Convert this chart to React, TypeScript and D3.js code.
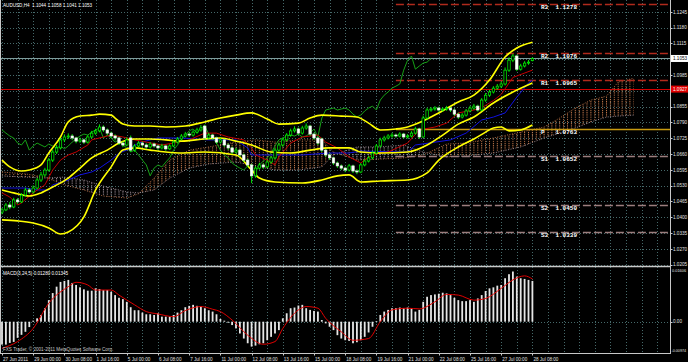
import React, { useEffect } from 'react';
import * as d3 from 'd3';

const titleText = 'AUDUSD,H4  1.1044 1.1058 1.1041 1.1053';
const macdText = 'MACD(3,24,5) 0.01280 0.01345';
const copyText = 'FXS Trader, © 2001-2011 MetaQuotes Software Corp.';

const dateLabels = ['27 Jun 2011','29 Jun 00:00','30 Jun 08:00','1 Jul 16:00','5 Jul 00:00','6 Jul 08:00','7 Jul 16:00','11 Jul 00:00','12 Jul 08:00','13 Jul 16:00','15 Jul 00:00','18 Jul 08:00','19 Jul 16:00','21 Jul 00:00','22 Jul 08:00','25 Jul 16:00','27 Jul 00:00','28 Jul 08:00'];
const dateBars = [0,8,16,24,32,40,48,56,64,72,80,88,96,104,112,120,128,136];

const gridLevels = [1.1245,1.1180,1.1115,1.1050,1.0985,1.0920,1.0855,1.0790,1.0725,1.0660,1.0595,1.0530,1.0465,1.0400,1.0335,1.0270,1.0205];
const axisLabels = [1.1245,1.1180,1.1115,1.0985,1.0855,1.0790,1.0725,1.0660,1.0595,1.0530,1.0465,1.0400,1.0335,1.0270,1.0205];

const bidPrice = 1.1053;
const redLinePrice = 1.0927;

const pivotNames = ['R3','R2','R1','P','S1','S2','S3'];
const pivotValues = [1.1278,1.1076,1.0965,1.0763,1.0652,1.0450,1.0339];
const pivotStartBar = 101;

const opens = [1.0421,1.0430,1.0450,1.0442,1.0471,1.0463,1.0491,1.0512,1.0504,1.0520,
1.0553,1.0574,1.0594,1.0635,1.0668,1.0685,1.0718,1.0730,1.0734,1.0726,
1.0713,1.0718,1.0709,1.0730,1.0746,1.0755,1.0771,1.0759,1.0746,1.0734,
1.0726,1.0705,1.0697,1.0726,1.0676,1.0693,1.0705,1.0697,1.0689,1.0701,
1.0693,1.0685,1.0693,1.0681,1.0693,1.0709,1.0722,1.0734,1.0742,1.0738,
1.0750,1.0759,1.0775,1.0726,1.0738,1.0726,1.0709,1.0718,1.0697,1.0685,
1.0668,1.0676,1.0656,1.0635,1.0615,1.0570,1.0602,1.0615,1.0607,1.0627,
1.0644,1.0676,1.0697,1.0718,1.0738,1.0755,1.0763,1.0746,1.0767,1.0775,
1.0742,1.0726,1.0722,1.0676,1.0656,1.0644,1.0623,1.0611,1.0602,1.0594,
1.0611,1.0590,1.0586,1.0615,1.0631,1.0644,1.0664,1.0693,1.0718,1.0726,
1.0734,1.0738,1.0734,1.0742,1.0730,1.0734,1.0746,1.0763,1.0730,1.0808,
1.0841,1.0845,1.0849,1.0841,1.0845,1.0849,1.0841,1.0824,1.0812,1.0820,
1.0837,1.0849,1.0857,1.0841,1.0882,1.0902,1.0915,1.0931,1.0939,1.0948,
1.1005,1.1046,1.1063,1.1009,1.1022,1.1034,1.1044];
const highs = [1.0438,1.0458,1.0462,1.0480,1.0479,1.0499,1.0521,1.0520,1.0531,1.0562,
1.0586,1.0603,1.0644,1.0679,1.0697,1.0726,1.0741,1.0745,1.0742,1.0731,
1.0727,1.0724,1.0738,1.0755,1.0764,1.0782,1.0778,1.0765,1.0752,1.0741,
1.0731,1.0712,1.0729,1.0736,1.0701,1.0713,1.0711,1.0704,1.0709,1.0707,
1.0699,1.0702,1.0698,1.0700,1.0717,1.0730,1.0742,1.0751,1.0749,1.0758,
1.0768,1.0779,1.0781,1.0746,1.0743,1.0731,1.0726,1.0723,1.0703,1.0690,
1.0685,1.0681,1.0662,1.0641,1.0620,1.0611,1.0624,1.0621,1.0635,1.0652,
1.0684,1.0706,1.0727,1.0746,1.0764,1.0774,1.0769,1.0776,1.0786,1.0780,
1.0748,1.0731,1.0727,1.0681,1.0662,1.0649,1.0629,1.0617,1.0608,1.0619,
1.0616,1.0597,1.0623,1.0639,1.0653,1.0672,1.0701,1.0727,1.0735,1.0742,
1.0747,1.0744,1.0750,1.0747,1.0742,1.0754,1.0772,1.0768,1.0818,1.0850,
1.0853,1.0857,1.0855,1.0852,1.0858,1.0854,1.0846,1.0830,1.0828,1.0845,
1.0858,1.0866,1.0863,1.0890,1.0911,1.0924,1.0939,1.0948,1.0958,1.1016,
1.1058,1.1072,1.1068,1.1031,1.1042,1.1047,1.1058];
const lows = [1.0412,1.0425,1.0433,1.0437,1.0455,1.0458,1.0486,1.0496,1.0497,1.0514,
1.0545,1.0566,1.0588,1.0627,1.0660,1.0679,1.0709,1.0722,1.0717,1.0704,
1.0706,1.0701,1.0703,1.0724,1.0739,1.0749,1.0751,1.0738,1.0726,1.0716,
1.0697,1.0688,1.0692,1.0668,1.0669,1.0687,1.0690,1.0681,1.0683,1.0686,
1.0677,1.0679,1.0673,1.0676,1.0688,1.0703,1.0716,1.0728,1.0730,1.0732,
1.0744,1.0752,1.0719,1.0720,1.0718,1.0701,1.0703,1.0689,1.0677,1.0660,
1.0662,1.0648,1.0627,1.0606,1.0540,1.0562,1.0595,1.0598,1.0601,1.0620,
1.0638,1.0670,1.0690,1.0712,1.0731,1.0748,1.0739,1.0740,1.0760,1.0735,
1.0718,1.0697,1.0668,1.0648,1.0636,1.0615,1.0603,1.0594,1.0585,1.0588,
1.0582,1.0577,1.0581,1.0609,1.0625,1.0638,1.0657,1.0687,1.0711,1.0720,
1.0727,1.0727,1.0728,1.0723,1.0724,1.0728,1.0740,1.0722,1.0726,1.0801,
1.0834,1.0838,1.0834,1.0835,1.0838,1.0833,1.0816,1.0804,1.0806,1.0814,
1.0831,1.0842,1.0834,1.0836,1.0875,1.0895,1.0909,1.0924,1.0931,1.0942,
1.0998,1.1038,1.1001,1.1003,1.1016,1.1027,1.1041];
const closes = [1.0430,1.0450,1.0442,1.0471,1.0463,1.0491,1.0512,1.0504,1.0520,1.0553,
1.0574,1.0594,1.0635,1.0668,1.0685,1.0718,1.0730,1.0734,1.0726,1.0713,
1.0718,1.0709,1.0730,1.0746,1.0755,1.0771,1.0759,1.0746,1.0734,1.0726,
1.0705,1.0697,1.0718,1.0676,1.0693,1.0705,1.0697,1.0689,1.0701,1.0693,
1.0685,1.0693,1.0681,1.0693,1.0709,1.0722,1.0734,1.0742,1.0738,1.0750,
1.0759,1.0767,1.0726,1.0738,1.0726,1.0709,1.0718,1.0697,1.0685,1.0668,
1.0676,1.0656,1.0635,1.0615,1.0570,1.0602,1.0615,1.0607,1.0627,1.0644,
1.0676,1.0697,1.0718,1.0738,1.0755,1.0763,1.0746,1.0767,1.0775,1.0742,
1.0726,1.0705,1.0676,1.0656,1.0644,1.0623,1.0611,1.0602,1.0594,1.0611,
1.0590,1.0586,1.0615,1.0631,1.0644,1.0664,1.0693,1.0718,1.0726,1.0734,
1.0738,1.0734,1.0742,1.0730,1.0734,1.0746,1.0763,1.0730,1.0808,1.0841,
1.0845,1.0849,1.0841,1.0845,1.0849,1.0841,1.0824,1.0812,1.0820,1.0837,
1.0849,1.0857,1.0841,1.0882,1.0902,1.0915,1.0931,1.0939,1.0948,1.1005,
1.1046,1.1063,1.1009,1.1022,1.1034,1.1038,1.1053];

const chikouShift = 26;

const upperIdx = [0,2,5,7,10,12,15,17,20,23,25,28,29,31,34,38,42,47,52,56,60,64,68,71,76,79,82,87,91,94,97,101,104,108,112,117,121,125,129,132,136];
const upperVal = [1.0635,1.0607,1.0590,1.0594,1.0615,1.0664,1.0730,1.0792,1.0816,1.0820,1.0824,1.0820,1.0808,1.0783,1.0775,1.0775,1.0771,1.0775,1.0792,1.0808,1.0820,1.0829,1.0804,1.0783,1.0787,1.0808,1.0820,1.0816,1.0812,1.0787,1.0759,1.0763,1.0771,1.0796,1.0829,1.0874,1.0902,1.0964,1.1059,1.1096,1.1120];
const middleIdx = [0,3,7,10,13,17,20,23,27,30,34,38,42,46,52,56,60,64,69,74,79,84,89,92,97,104,109,113,117,121,126,131,136];
const middleVal = [1.0512,1.0500,1.0487,1.0500,1.0524,1.0561,1.0602,1.0644,1.0676,1.0705,1.0722,1.0722,1.0718,1.0713,1.0722,1.0726,1.0713,1.0697,1.0668,1.0664,1.0676,1.0685,1.0685,1.0668,1.0664,1.0668,1.0697,1.0738,1.0783,1.0812,1.0870,1.0915,1.0952];
const lowerIdx = [0,4,8,12,15,17,21,24,28,31,34,38,42,46,52,60,64,66,70,77,82,86,89,92,97,104,109,112,117,121,124,126,128,130,133,136];
const lowerVal = [1.0389,1.0385,1.0376,1.0356,1.0331,1.0339,1.0401,1.0512,1.0607,1.0676,1.0685,1.0676,1.0668,1.0664,1.0668,1.0656,1.0594,1.0561,1.0545,1.0541,1.0553,1.0570,1.0574,1.0545,1.0549,1.0553,1.0582,1.0635,1.0689,1.0722,1.0750,1.0767,1.0771,1.0755,1.0759,1.0779];

const tenkanIdx = [0,2,4,5,8,11,13,15,17,19,22,23,26,28,31,34,37,41,44,48,52,55,58,62,64,65,68,70,71,74,77,81,83,86,89,92,94,97,99,104,107,111,114,117,121,123,126,128,131,136];
const tenkanVal = [1.0500,1.0483,1.0450,1.0459,1.0500,1.0533,1.0594,1.0635,1.0656,1.0668,1.0697,1.0718,1.0730,1.0738,1.0730,1.0718,1.0709,1.0697,1.0705,1.0718,1.0746,1.0746,1.0730,1.0718,1.0685,1.0656,1.0635,1.0615,1.0648,1.0705,1.0730,1.0738,1.0709,1.0685,1.0648,1.0623,1.0648,1.0664,1.0668,1.0705,1.0759,1.0771,1.0787,1.0829,1.0841,1.0850,1.0880,1.0905,1.0975,1.1005];
const kijunIdx = [0,3,6,9,12,13,17,20,23,25,28,30,32,35,38,40,46,53,60,63,64,69,77,84,89,92,104,106,115,119,123,126,129,132,135,136];
const kijunVal = [1.0520,1.0520,1.0520,1.0512,1.0512,1.0533,1.0553,1.0574,1.0586,1.0602,1.0635,1.0664,1.0676,1.0705,1.0718,1.0726,1.0726,1.0718,1.0718,1.0685,1.0656,1.0656,1.0656,1.0664,1.0664,1.0672,1.0668,1.0697,1.0718,1.0746,1.0800,1.0812,1.0829,1.0894,1.0952,1.0964];

const cloudIdx = [0,6,11,16,21,26,32,35,39,43,48,53,60,65,70,76,82,85,91,97,103,108,114,119,126,133,139,143,147,151,155,158,162];
const spanA = [1.0586,1.0578,1.0565,1.0533,1.0512,1.0487,1.0479,1.0496,1.0561,1.0635,1.0676,1.0689,1.0709,1.0718,1.0709,1.0718,1.0718,1.0668,1.0635,1.0639,1.0644,1.0656,1.0701,1.0705,1.0726,1.0750,1.0771,1.0808,1.0849,1.0882,1.0898,1.0956,1.0972];
const spanB = [1.0570,1.0565,1.0561,1.0565,1.0553,1.0528,1.0504,1.0500,1.0512,1.0561,1.0602,1.0619,1.0627,1.0611,1.0594,1.0594,1.0607,1.0656,1.0689,1.0689,1.0697,1.0668,1.0648,1.0652,1.0664,1.0689,1.0726,1.0746,1.0767,1.0792,1.0812,1.0816,1.0820];

const macdHist = [-0.0068,-0.0068,-0.0063,-0.0060,-0.0048,-0.0039,-0.0030,-0.0016,0.0003,0.0010,
0.0020,0.0040,0.0064,0.0085,0.0104,0.0118,0.0121,0.0124,0.0115,0.0109,
0.0102,0.0096,0.0092,0.0092,0.0099,0.0097,0.0094,0.0094,0.0089,0.0079,
0.0071,0.0067,0.0059,0.0043,0.0034,0.0034,0.0027,0.0022,0.0022,0.0020,
0.0025,0.0015,0.0015,0.0015,0.0020,0.0027,0.0034,0.0043,0.0047,0.0050,
0.0047,0.0045,0.0040,0.0034,0.0030,0.0022,0.0008,0.0003,-0.0003,-0.0010,
-0.0020,-0.0035,-0.0050,-0.0064,-0.0074,-0.0071,-0.0067,-0.0064,-0.0055,-0.0045,
-0.0035,-0.0025,0.0010,0.0025,0.0040,0.0042,0.0048,0.0050,0.0040,0.0035,
0.0032,0.0030,0.0005,-0.0005,-0.0015,-0.0025,-0.0040,-0.0050,-0.0055,-0.0057,
-0.0064,-0.0061,-0.0055,-0.0045,-0.0032,-0.0015,0.0002,0.0020,0.0030,0.0035,
0.0040,0.0040,0.0042,0.0040,0.0042,0.0040,0.0030,0.0035,0.0059,0.0074,
0.0079,0.0081,0.0083,0.0086,0.0084,0.0079,0.0071,0.0064,0.0061,0.0061,
0.0064,0.0059,0.0069,0.0079,0.0091,0.0099,0.0102,0.0107,0.0109,0.0129,
0.0141,0.0149,0.0134,0.0129,0.0127,0.0124,0.0121];
const signalIdx = [0,4,8,12,17,19,22,24,28,30,34,37,40,44,47,51,54,56,59,63,67,70,72,76,78,81,83,87,90,94,97,100,104,107,111,114,117,121,124,128,131,134,136];
const signalVal = [-0.0079,-0.0059,-0.0020,0.0055,0.0104,0.0117,0.0109,0.0094,0.0094,0.0079,0.0050,0.0030,0.0023,0.0015,0.0033,0.0045,0.0037,0.0030,0.0005,-0.0040,-0.0067,-0.0059,-0.0020,0.0035,0.0045,0.0040,0.0010,-0.0030,-0.0055,-0.0050,0.0000,0.0035,0.0040,0.0038,0.0059,0.0081,0.0079,0.0064,0.0069,0.0099,0.0124,0.0136,0.0127];
const macdAxisMax = 0.01606;
const macdAxisMin = -0.00974;

const FONT = '"Liberation Sans", Arial, sans-serif';
const MONO = '"Liberation Mono", "DejaVu Sans Mono", monospace';

export default function App() {
  useEffect(() => {
    document.body.style.margin = '0';
    document.body.style.background = '#000';
  }, []);

  const PW = 670;
  const mainBottom = 266;
  const macdTop = 267;
  const macdBottom = 353;

  const x = d3.scaleLinear().domain([0, 136]).range([2, 532.4]);
  const y = d3.scaleLinear().domain([1.0205, 1.1245]).range([264.6, 11.8]);
  const my = d3.scaleLinear().domain([macdAxisMin, macdAxisMax]).range([354.5, 267.6]);
  const step = x(1) - x(0);

  const mkLine = (idx: number[], vals: number[], sc: d3.ScaleLinear<number, number>, curve: d3.CurveFactory) =>
    d3.line<number>().x((_, k) => x(idx[k])).y((v) => sc(v)).curve(curve)(vals) || '';

  const upperPath = mkLine(upperIdx, upperVal, y, d3.curveMonotoneX);
  const middlePath = mkLine(middleIdx, middleVal, y, d3.curveMonotoneX);
  const lowerPath = mkLine(lowerIdx, lowerVal, y, d3.curveMonotoneX);
  const tenkanPath = mkLine(tenkanIdx, tenkanVal, y, d3.curveLinear);
  const kijunPath = mkLine(kijunIdx, kijunVal, y, d3.curveLinear);
  const signalPath = mkLine(signalIdx, signalVal, my, d3.curveMonotoneX);
  const chikouPath = d3.line<number>().x((_, k) => x(k)).y((v) => y(v))(closes.slice(chikouShift)) || '';

  const cloudArea = d3.area<number>().x((_, k) => x(cloudIdx[k])).y0((_, k) => y(spanA[k])).y1((_, k) => y(spanB[k]))(spanA) || '';
  const clipBelowA = d3.area<number>().x((_, k) => x(cloudIdx[k])).y0((v) => y(v)).y1(mainBottom)(spanA) || '';
  const clipBelowB = d3.area<number>().x((_, k) => x(cloudIdx[k])).y0((v) => y(v)).y1(mainBottom)(spanB) || '';
  const spanAPath = mkLine(cloudIdx, spanA, y, d3.curveLinear);
  const spanBPath = mkLine(cloudIdx, spanB, y, d3.curveLinear);

  const vGrid: number[] = [];
  for (let b = 0; x(b) < PW; b += 4) vGrid.push(Math.round(x(b)) + 0.5);

  const gridColor = '#46696a';
  const px = (v: number) => Math.round(v) + 0.5;

  return (
    <svg width={688} height={362} style={{ position: 'absolute', left: 0, top: 0, display: 'block', background: '#000' }}>
      <defs>
        <clipPath id="mainClip"><rect x={1} y={0} width={PW - 1} height={mainBottom} /></clipPath>
        <clipPath id="macdClip"><rect x={1} y={macdTop} width={PW - 1} height={macdBottom - macdTop} /></clipPath>
        <clipPath id="belowA"><path d={clipBelowA} /></clipPath>
        <clipPath id="belowB"><path d={clipBelowB} /></clipPath>
        <pattern id="pBrown" patternUnits="userSpaceOnUse" x={x(0) - 0.5} y={0} width={step} height={2.2}>
          <rect x={0} y={0} width={1} height={1.1} fill="#d0804f" />
        </pattern>
        <pattern id="pGrey" patternUnits="userSpaceOnUse" x={x(0) - 0.5} y={0} width={step} height={2.2}>
          <rect x={0} y={0} width={1} height={1.1} fill="#b7a3ad" />
        </pattern>
      </defs>
      <rect x={0} y={0} width={688} height={362} fill="#000" />

      <g clipPath="url(#mainClip)">
        {gridLevels.map((v, k) => (
          <line key={'hg' + k} x1={1} x2={PW} y1={px(y(v))} y2={px(y(v))} stroke={gridColor} strokeDasharray="1 2" />
        ))}
        {vGrid.map((gx, k) => (
          <line key={'vg' + k} x1={gx} x2={gx} y1={0} y2={mainBottom} stroke={gridColor} strokeDasharray="1 2" />
        ))}
      </g>
      <g clipPath="url(#macdClip)">
        {vGrid.map((gx, k) => (
          <line key={'vm' + k} x1={gx} x2={gx} y1={macdTop} y2={macdBottom} stroke={gridColor} strokeDasharray="1 2" />
        ))}
        <line x1={1} x2={PW} y1={px(my(0))} y2={px(my(0))} stroke={gridColor} strokeDasharray="1 2" />
      </g>

      <g clipPath="url(#mainClip)">
        <line x1={1} x2={PW} y1={px(y(bidPrice))} y2={px(y(bidPrice))} stroke="#7f9c9c" strokeWidth={1} />
        <line x1={1} x2={PW} y1={px(y(redLinePrice))} y2={px(y(redLinePrice))} stroke="#d40000" strokeWidth={1} />

        <g clipPath="url(#belowA)"><path d={cloudArea} fill="url(#pBrown)" /></g>
        <g clipPath="url(#belowB)"><path d={cloudArea} fill="url(#pGrey)" /></g>
        <path d={spanAPath} fill="none" stroke="#d0804f" strokeWidth={0.8} strokeDasharray="1 1.5" />
        <path d={spanBPath} fill="none" stroke="#b7a3ad" strokeWidth={0.8} strokeDasharray="1 1.5" />

        {pivotValues.map((v, k) => {
          const name = pivotNames[k];
          const isP = name === 'P';
          const isR = name[0] === 'R';
          const col = isP ? '#c89a10' : isR ? '#b02a1c' : '#9c7e7e';
          return (
            <line key={'pv' + k} x1={x(pivotStartBar)} x2={PW} y1={px(y(v))} y2={px(y(v))}
              stroke={col} strokeWidth={1.6} strokeDasharray={isP ? undefined : '8 3'} />
          );
        })}

        <path d={chikouPath} fill="none" stroke="#16a016" strokeWidth={1} />
        <path d={kijunPath} fill="none" stroke="#1010e0" strokeWidth={1} />
        <path d={tenkanPath} fill="none" stroke="#c40000" strokeWidth={1} />

        <path d={upperPath} fill="none" stroke="#ffff00" strokeWidth={1.6} />
        <path d={middlePath} fill="none" stroke="#ffff00" strokeWidth={1.6} />
        <path d={lowerPath} fill="none" stroke="#ffff00" strokeWidth={1.6} />

        {closes.map((c, i) => {
          const o = opens[i];
          const bull = c >= o;
          const cx = x(i);
          const yt = y(Math.max(o, c));
          const yb = y(Math.min(o, c));
          return (
            <g key={'c' + i}>
              <line x1={cx} x2={cx} y1={y(highs[i])} y2={y(lows[i])} stroke="#00ff00" strokeWidth={0.9} />
              <rect x={cx - 1.2} y={yt} width={2.4} height={Math.max(yb - yt, 0.8)}
                fill={bull ? '#000' : '#ffffff'} stroke={bull ? '#00ff00' : '#e8ffe8'} strokeWidth={0.7} />
            </g>
          );
        })}

        {pivotValues.map((v, k) => (
          <text key={'pl' + k} x={541} y={y(v) + 5} fontFamily={MONO} fontSize={6} fontWeight="bold" fill="#ffffff"
            style={{ whiteSpace: 'pre' }}>{`${pivotNames[k]}${pivotNames[k].length === 1 ? ' ' : ''}  ${v.toFixed(4)}`}</text>
        ))}
      </g>

      <g clipPath="url(#macdClip)">
        {macdHist.map((v, i) => (
          <rect key={'h' + i} x={x(i) - 0.9} y={Math.min(my(v), my(0))} width={1.8}
            height={Math.abs(my(v) - my(0))} fill="#e6e6e6" />
        ))}
        <path d={signalPath} fill="none" stroke="#e00000" strokeWidth={1} />
      </g>

      <line x1={0.5} x2={0.5} y1={0} y2={macdBottom} stroke="#c8c8c8" />
      <line x1={PW + 0.5} x2={PW + 0.5} y1={0} y2={macdBottom + 0.5} stroke="#c8c8c8" />
      <line x1={0} x2={PW + 1} y1={mainBottom + 0.5} y2={mainBottom + 0.5} stroke="#c8c8c8" strokeWidth={1.5} />
      <line x1={0} x2={PW + 1} y1={macdBottom + 0.5} y2={macdBottom + 0.5} stroke="#c8c8c8" />

      <text x={3} y={6.5} fontFamily={FONT} fontSize={4.6} fill="#ffffff" style={{ whiteSpace: 'pre' }}>{titleText}</text>
      <text x={3} y={274.5} fontFamily={FONT} fontSize={4.6} fill="#ffffff">{macdText}</text>
      <text x={3} y={350.5} fontFamily={FONT} fontSize={4.6} fill="#c8c8c8">{copyText}</text>

      {axisLabels.map((v, k) => (
        <g key={'al' + k}>
          <line x1={PW} x2={PW + 2.5} y1={px(y(v))} y2={px(y(v))} stroke="#c8c8c8" />
          <text x={673} y={y(v) + 1.7} fontFamily={FONT} fontSize={4.6} fill="#e0e0e0">{v.toFixed(4)}</text>
        </g>
      ))}
      <rect x={671} y={y(bidPrice) - 3.5} width={17} height={7} fill="#ffffff" />
      <text x={673} y={y(bidPrice) + 1.7} fontFamily={FONT} fontSize={4.6} fill="#000">{bidPrice.toFixed(4)}</text>
      <rect x={671} y={y(redLinePrice) - 3.5} width={17} height={7} fill="#e00000" />
      <text x={673} y={y(redLinePrice) + 1.7} fontFamily={FONT} fontSize={4.6} fill="#ffffff">{redLinePrice.toFixed(4)}</text>

      <text x={672} y={my(macdAxisMax) + 4} fontFamily={FONT} fontSize={3.9} fill="#e0e0e0">{macdAxisMax.toFixed(5)}</text>
      <line x1={PW} x2={PW + 2.5} y1={px(my(0))} y2={px(my(0))} stroke="#c8c8c8" />
      <text x={673} y={my(0) + 1.7} fontFamily={FONT} fontSize={4.6} fill="#e0e0e0">0.00</text>
      <text x={671.5} y={macdBottom - 1} fontFamily={FONT} fontSize={3.7} fill="#e0e0e0">{macdAxisMin.toFixed(5)}</text>

      {dateBars.map((b, k) => (
        <g key={'d' + k}>
          <line x1={px(x(b))} x2={px(x(b))} y1={macdBottom} y2={macdBottom + 2.5} stroke="#c8c8c8" />
          <text x={x(b) + 1} y={360.5} fontFamily={FONT} fontSize={4.6} fill="#e0e0e0">{dateLabels[k]}</text>
        </g>
      ))}
    </svg>
  );
}
